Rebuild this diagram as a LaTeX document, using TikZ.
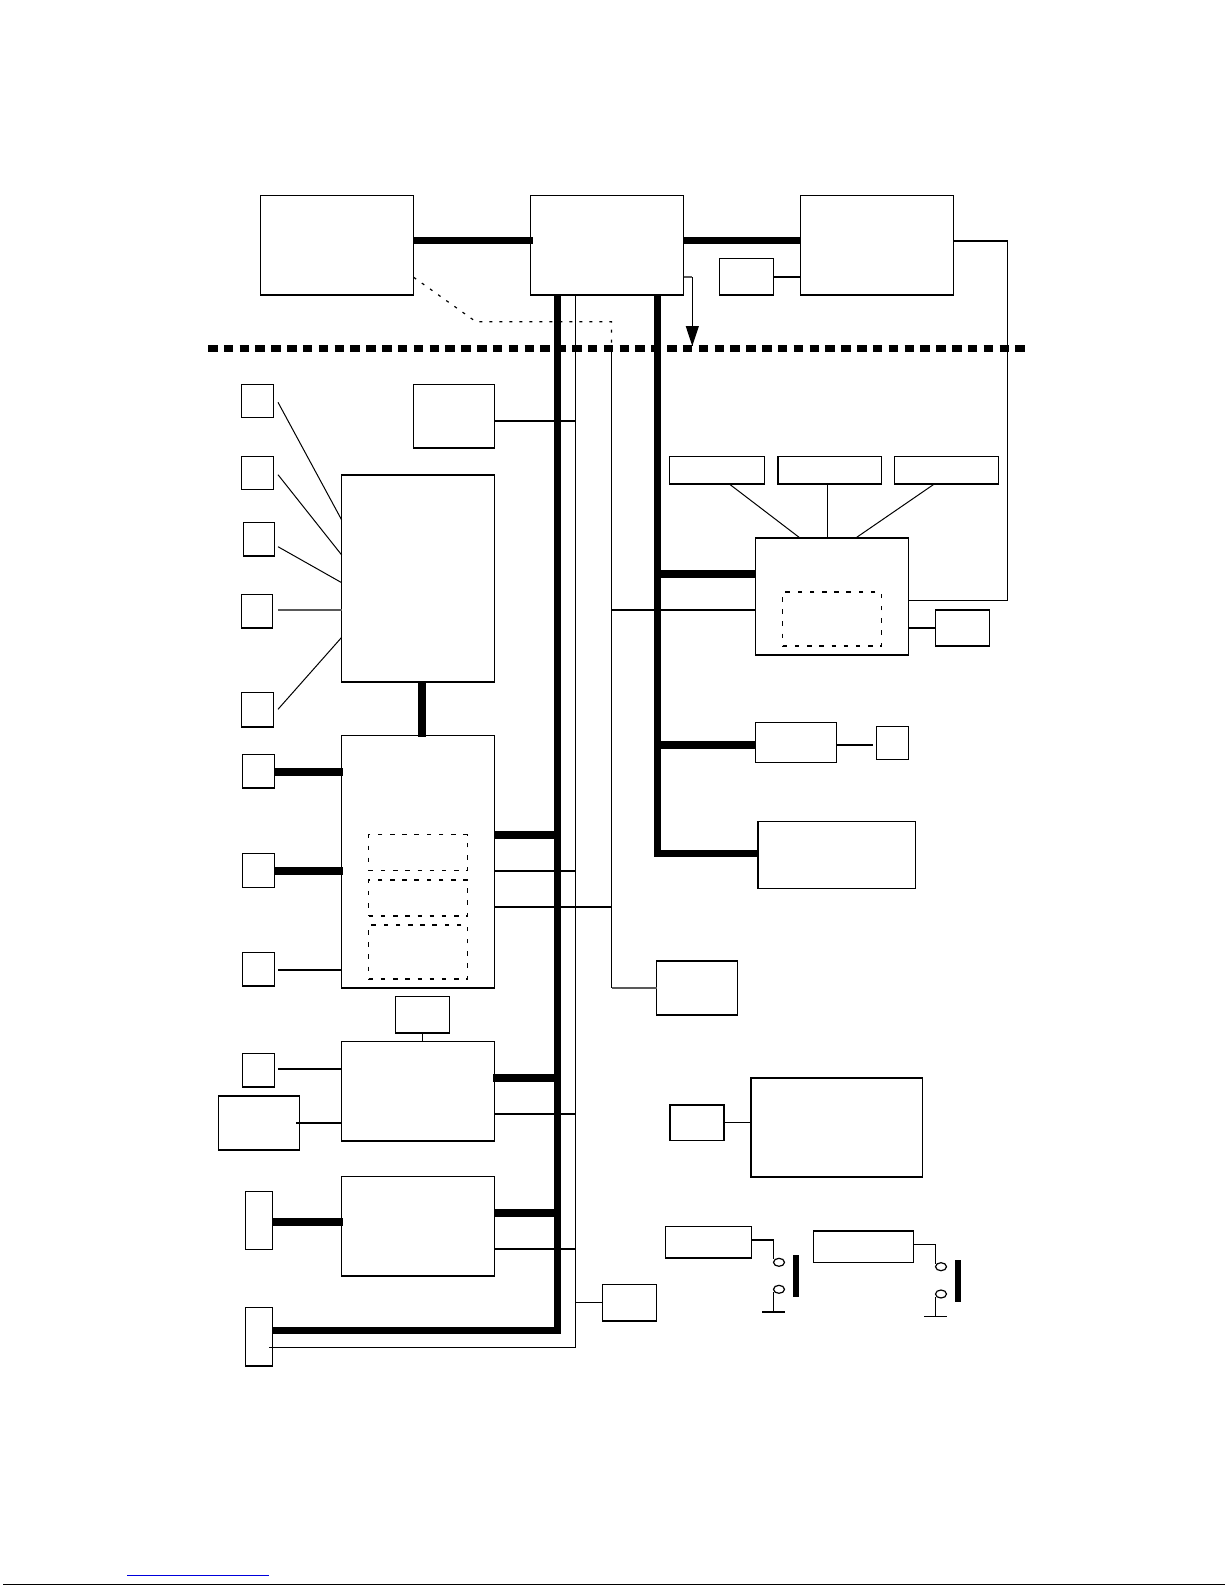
\documentclass[tikz,border=0pt]{standalone}
\usetikzlibrary{arrows.meta,shapes.geometric}
\definecolor{linkblue}{RGB}{0,0,220}
\newcommand{\bx}[6][]{%
  \pgfmathsetmacro\bxw{#5-#3}\pgfmathsetmacro\bxh{#6-#4}%
  \node[boxstyle,#1,minimum width=\bxw pt,minimum height=\bxh pt] (#2) at (#3,#4) {};}
\tikzset{
  boxstyle/.style={draw=black,line width=1.5pt,rectangle,anchor=north west,inner sep=0pt,outer sep=0pt},
  dotbox/.style={line width=1.4pt,dash pattern=on 4.5pt off 7.7pt},
  bus/.style={line width=7.3pt,black},
  wire/.style={line width=1.4pt,black},
  fine/.style={line width=1pt,black},
  graywire/.style={line width=1.4pt,black!65},
  contact/.style={draw=black,line width=1.2pt,ellipse,minimum width=11pt,minimum height=8pt,inner sep=0pt,outer sep=0pt}
}
\begin{document}
\begin{tikzpicture}[x=1pt,y=-1pt]
\useasboundingbox (0,0) rectangle (1225,1585);
% top row
\bx{A}{260.5}{195.7}{413.7}{295}
\bx{B}{530.5}{195.7}{683.7}{295}
\bx{C}{800.5}{195.7}{953.7}{295}
\bx{D}{719.6}{258.7}{773.7}{295}
% left column small boxes
\bx{La}{241.7}{384.3}{273.3}{417.3}
\bx{Lb}{241.7}{456.7}{273.3}{489.3}
\bx{Lc}{243.3}{522.7}{274.3}{556}
\bx{Ld}{241.7}{594.7}{272.3}{628}
\bx{Le}{241.7}{692.7}{273.3}{727}
\bx{Lf}{242.7}{754.3}{274.3}{788}
\bx{Lg}{242.7}{853.3}{274.3}{887.3}
\bx{Lh}{242.7}{952.3}{274.3}{986}
\bx{Li}{242.7}{1053.3}{274.3}{1087}
\bx{S}{218.7}{1096}{299.3}{1150}
\bx{U}{245.3}{1191.7}{272.7}{1249.3}
\bx{V}{245.3}{1307.3}{272.7}{1366}
% centre column
\bx{M}{413.3}{384.7}{494.7}{448}
\bx{N}{341.7}{475}{494.7}{682}
\bx{P}{341.7}{735.7}{494.7}{988}
\bx{Q}{395.7}{996.7}{449.3}{1033}
\bx{R}{341.7}{1041.7}{494.7}{1141}
\bx{T}{341.7}{1176.7}{494.7}{1276}
\bx{W}{602.7}{1284.7}{656.3}{1321}
\bx[dotbox]{Pa}{368.7}{834.7}{467.3}{870.7}
\bx[dotbox]{Pb}{368.7}{880}{467.3}{916}
\bx[dotbox]{Pc}{368.7}{925}{467.3}{979}
% right column
\bx{Xa}{669.7}{456.7}{764.3}{484}
\bx{Xb}{778}{456.7}{881.3}{484}
\bx{Xc}{894.7}{456.7}{998.3}{484}
\bx{Y}{755.7}{538}{908.3}{655}
\bx[dotbox]{Ya}{782.7}{592}{881.3}{646}
\bx{Z}{935.3}{610}{989.3}{646}
\bx{AA}{755.7}{722.7}{836.3}{762.7}
\bx{AB}{876.7}{726.3}{908.7}{759.3}
\bx{AC}{758}{821.7}{915.3}{888.7}
\bx{AD}{656.7}{961}{737.3}{1015}
\bx{AE}{670}{1105}{724}{1140.7}
\bx{AF}{751}{1078}{922.3}{1177}
\bx{AG}{665.7}{1226.7}{751.3}{1258}
\bx{AH}{813.7}{1231}{913.3}{1262.3}
\node[contact] (ca) at (779,1262.3) {};
\node[contact] (cb) at (779,1289.3) {};
\node[contact] (cc) at (941,1266.7) {};
\node[contact] (cd) at (941,1294) {};
% named junctions
\coordinate (busL) at (557.5,295);
\coordinate (busR) at (657,295);
\coordinate (thin) at (575.7,295);
\coordinate (rail) at (611.5,345);
\coordinate (farR) at (1007.5,241);
\coordinate (dashL) at (208,348.3);
\coordinate (dashR) at (1025,348.3);
\coordinate (arrowEnd) at (692.3,346);
\coordinate (gndA) at (773.3,1312);
\coordinate (gndB) at (935.3,1316.7);
% dashed boundary
\draw[line width=7pt,dash pattern=on 9.5pt off 6.33pt] (dashL) -- (dashR);
% top links
\draw[bus] (A.east |- 0,240.3) -- (533,240.3);
\draw[bus] (B.east |- 0,240.3) -- (C.west |- 0,240.3);
\draw[wire] (D.east |- 0,277) -- (C.west |- 0,277);
\draw[graywire] (B.east |- 0,277) -- (arrowEnd |- 0,277);
\draw[fine] (arrowEnd |- 0,277) -- (arrowEnd);
\draw[fine,-{Triangle[length=20pt,width=13pt]}] (arrowEnd |- 0,300) -- (arrowEnd);
\draw[line width=1.2pt,dash pattern=on 3pt off 7pt] (A.east |- 0,277.3) -- (475.9,321.7) -- (611.5,321.7) -- (rail);
% main verticals
\draw[line width=7pt,line join=miter] (busL) -- (busL |- 0,1330.3) -- (V.east |- 0,1330.3);
\draw[line width=7pt,line join=miter] (busR) -- (busR |- 0,853) -- (AC.west |- 0,853);
\draw[fine] (thin) -- (thin |- 0,1348);
\draw[fine] (269,1347.5) -- (thin |- 0,1347.5);
\draw[fine] (rail) -- (rail |- 0,988);
\draw[graywire] (rail |- 0,988) -- (AD.west |- 0,988);
\draw[fine] (farR) -- (farR |- 0,600.7);
\draw[wire] (C.east |- farR) -- (farR);
\draw[wire] (Y.east |- 0,600.7) -- (farR |- 0,600.7);
% left fan
\draw[fine] (278,402.3) -- (N.west |- 0,520);
\draw[fine] (278,474.7) -- (N.west |- 0,555);
\draw[fine] (278,546.7) -- (N.west |- 0,582.7);
\draw[graywire] (278,610) -- (N.west |- 0,610);
\draw[fine] (278,709.3) -- (N.west |- 0,637.3);
\draw[line width=8pt] (N.south -| 422.3,0) -- (422.3,737);
% left to P, R, T
\draw[bus] (Lf.east |- 0,772) -- (343,772);
\draw[bus] (Lg.east |- 0,871) -- (343,871);
\draw[wire] (278,970) -- (P.west |- 0,970);
\draw[wire] (Q.south -| 422.3,0) -- (R.north -| 422.3,0);
\draw[wire] (278,1069) -- (R.west |- 0,1069);
\draw[wire] (296,1123) -- (R.west |- 0,1123);
\draw[bus] (U.east |- 0,1222) -- (343,1222);
% to the buses
\draw[wire] (M.east |- 0,421) -- (thin |- 0,421);
\draw[bus] (P.east |- 0,835) -- (busL |- 0,835);
\draw[wire] (P.east |- 0,871) -- (thin |- 0,871);
\draw[wire] (P.east |- 0,907) -- (rail |- 0,907);
\draw[bus] (493,1078) -- (busL |- 0,1078);
\draw[wire] (R.east |- 0,1114) -- (thin |- 0,1114);
\draw[bus] (T.east |- 0,1213) -- (busL |- 0,1213);
\draw[wire] (T.east |- 0,1249) -- (thin |- 0,1249);
\draw[wire] (thin |- 0,1302.7) -- (W.west |- 0,1302.7);
% right links
\draw[fine] (729.3,484) -- (800,538);
\draw[fine] (827.7,484) -- (827.7,538);
\draw[fine] (934.3,484) -- (855.7,538);
\draw[bus] (busR |- 0,574) -- (Y.west |- 0,574);
\draw[wire] (rail |- 0,610) -- (Y.west |- 0,610);
\draw[wire] (Y.east |- 0,628) -- (Z.west |- 0,628);
\draw[bus] (busR |- 0,745) -- (AA.west |- 0,745);
\draw[wire] (AA.east |- 0,745) -- (872.7,745);
\draw[wire] (AE.east |- 0,1122.7) -- (AF.west |- 0,1122.7);
% contacts
\draw[wire] (AG.east |- 0,1240) -- (gndA |- 0,1240) -- (gndA |- 0,1259);
\draw[fine] (gndA |- 0,1292) -- (gndA);
\draw[wire] (762.3,1312) -- (785,1312);
\draw[line width=6pt] (796,1255) -- (796,1296.7);
\draw[fine] (AH.east |- 0,1244.3) -- (gndB |- 0,1244.3) -- (gndB |- 0,1264);
\draw[fine] (gndB |- 0,1297) -- (gndB);
\draw[fine] (924,1316.7) -- (946.7,1316.7);
\draw[line width=6pt] (958,1260) -- (958,1301.7);
% page artefacts
\draw[linkblue,line width=1pt] (127,1575.3) -- (269,1575.3);
\draw[black,line width=1.2pt] (3,1584.5) -- (1225,1584.5);
\end{tikzpicture}
\end{document}
